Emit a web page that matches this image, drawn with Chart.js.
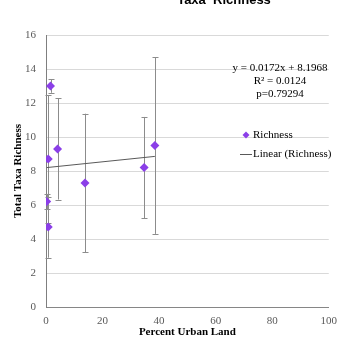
<!DOCTYPE html>
<html>
<head>
<meta charset="utf-8">
<script src="https://cdn.jsdelivr.net/npm/chart.js@4"></script>
<style>
  html, body { margin: 0; padding: 0; background: #fff; }
  #wrap { width: 345px; height: 339px; position: relative; }
</style>
</head>
<body>
<div id="wrap"><canvas id="graphe" width="345" height="339"></canvas></div>
<script>
// values
const urbanLand = [0.24, 0.8, 0.8, 1.6, 4.1, 13.8, 34.7, 38.5]
const richness  = [6.2, 4.7, 8.7, 13.0, 9.3, 7.3, 8.2, 9.5]
const richnessSd = [0.45, 1.8, 3.77, 0.4, 2.98, 4.07, 2.98, 5.2]
const xTicks = [0, 20, 40, 60, 80, 100]
const yTicks = [0, 2, 4, 6, 8, 10, 12, 14, 16]
const slope = 0.0172
const intercept = 8.1968
const equationLines = ['y = 0.0172x + 8.1968', 'R\u00b2 = 0.0124', 'p=0.79294']

const pointColor = '#8b3fe8'
const serif = '"Liberation Serif", "Times New Roman", serif'

const xMin = Math.min(...urbanLand)
const xMax = Math.max(...urbanLand)
const trend = [xMin, xMax].map(x => ({ x: x, y: slope * x + intercept }))

// error bars, drawn through the scales
const errorBars = {
  id: 'errorBars',
  beforeDatasetsDraw(chart) {
    const ctx = chart.ctx
    const xs = chart.scales.x, ys = chart.scales.y
    ctx.save()
    ctx.strokeStyle = '#8c8c8c'
    ctx.lineWidth = 1
    for (let i = 0; i < urbanLand.length; i++) {
      const px = Math.round(xs.getPixelForValue(urbanLand[i])) + 0.5
      const top = ys.getPixelForValue(richness[i] + richnessSd[i])
      const bot = ys.getPixelForValue(richness[i] - richnessSd[i])
      ctx.beginPath()
      ctx.moveTo(px, top); ctx.lineTo(px, bot)
      ctx.moveTo(px - 3, Math.round(top) + 0.5); ctx.lineTo(px + 3, Math.round(top) + 0.5)
      ctx.moveTo(px - 3, Math.round(bot) + 0.5); ctx.lineTo(px + 3, Math.round(bot) + 0.5)
      ctx.stroke()
    }
    ctx.restore()
  }
}

// title (cut off at the top), equation and legend
const extras = {
  id: 'extras',
  afterDraw(chart) {
    const ctx = chart.ctx
    ctx.save()
    ctx.fillStyle = '#000'
    ctx.font = 'bold 13px "Liberation Sans", Arial, sans-serif'
    ctx.textAlign = 'center'
    ctx.textBaseline = 'alphabetic'
    ctx.fillText('Taxa  Richness', 224, 4)

    ctx.font = '11px ' + serif
    ctx.textBaseline = 'middle'
    equationLines.forEach((t, i) => ctx.fillText(t, 280, 68 + i * 13))

    ctx.textAlign = 'left'
    const ds = chart.data.datasets
    // Richness
    ctx.fillStyle = pointColor
    ctx.beginPath()
    ctx.moveTo(246, 131.5); ctx.lineTo(249.5, 135); ctx.lineTo(246, 138.5); ctx.lineTo(242.5, 135)
    ctx.closePath(); ctx.fill()
    ctx.fillStyle = '#000'
    ctx.fillText(ds[0].label, 253, 135)
    // Linear
    ctx.strokeStyle = '#595959'
    ctx.lineWidth = 1
    ctx.beginPath(); ctx.moveTo(240, 154.5); ctx.lineTo(252, 154.5); ctx.stroke()
    ctx.fillText(ds[1].label, 253, 154)
    ctx.restore()
  }
}

new Chart(document.getElementById('graphe'), {
  type: 'scatter',
  data: {
    datasets: [
      {
        label: 'Richness',
        data: urbanLand.map((x, i) => ({ x: x, y: richness[i] })),
        pointStyle: 'rectRot',
        pointRadius: 4.5,
        backgroundColor: pointColor,
        borderColor: pointColor,
        borderWidth: 0,
        order: 1
      },
      {
        label: 'Linear (Richness)',
        type: 'line',
        data: trend,
        borderColor: '#595959',
        borderWidth: 1,
        pointRadius: 0,
        fill: false,
        order: 2
      }
    ]
  },
  options: {
    responsive: false,
    animation: false,
    devicePixelRatio: 1,
    layout: { padding: { left: 0, right: 9, top: 35, bottom: 0 } },
    plugins: {
      legend: { display: false },
      tooltip: { enabled: false }
    },
    scales: {
      x: {
        type: 'linear',
        min: 0, max: 100,
        afterBuildTicks: s => { s.ticks = xTicks.map(v => ({ value: v })) },
        afterFit: s => { s.height = 32 },
        grid: { display: false, drawTicks: false },
        border: { color: '#868686' },
        ticks: { padding: 8, color: '#595959', font: { family: serif, size: 11 } },
        title: {
          display: true, text: 'Percent Urban Land', color: '#000',
          font: { family: serif, size: 11, weight: 'bold' },
          padding: { top: 0, bottom: 0 }
        }
      },
      y: {
        min: 0, max: 16,
        afterBuildTicks: s => { s.ticks = yTicks.map(v => ({ value: v })) },
        afterFit: s => { s.width = 46 },
        grid: { color: '#d9d9d9', drawTicks: false },
        border: { color: '#7f7f7f' },
        ticks: { padding: 10, color: '#595959', font: { family: serif, size: 11 } },
        title: {
          display: true, text: 'Total Taxa Richness', color: '#000',
          font: { family: serif, size: 11, weight: 'bold' },
          padding: { top: 12, bottom: 0 }
        }
      }
    }
  },
  plugins: [errorBars, extras]
})
</script>
</body>
</html>
